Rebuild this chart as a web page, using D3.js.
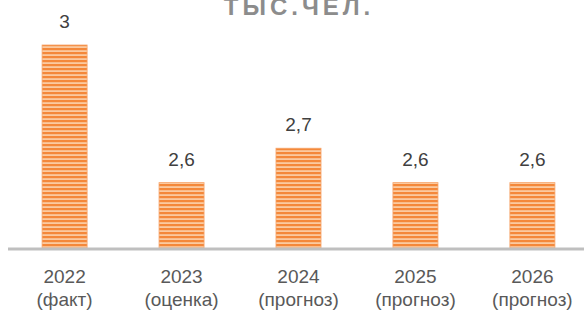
<!DOCTYPE html>
<html>
<head>
<meta charset="utf-8">
<script src="https://cdn.jsdelivr.net/npm/d3@7"></script>
<style>
  body { margin: 0; background: #fff; }
  svg { display: block; font-family: "Liberation Sans", Arial, sans-serif; }
</style>
</head>
<body>
<div id="chart"></div>
<script>
var years = ['2022', '2023', '2024', '2025', '2026'];
var notes = ['(факт)', '(оценка)', '(прогноз)', '(прогноз)', '(прогноз)'];
var values = [3, 2.6, 2.7, 2.6, 2.6];
var valueLabels = ['3', '2,6', '2,7', '2,6', '2,6'];

var width = 584, height = 310;
var baseY = 248;

var svg = d3.select('#chart').append('svg')
  .attr('width', width)
  .attr('height', height);

// stripes on the bars
var defs = svg.append('defs');
var pat = defs.append('pattern')
  .attr('id', 'stripes')
  .attr('patternUnits', 'userSpaceOnUse')
  .attr('width', 8).attr('height', 4);
pat.append('rect').attr('width', 8).attr('height', 4).attr('fill', '#fbcaa0');
pat.append('rect').attr('width', 8).attr('height', 2.2).attr('fill', '#f4883a');

var x = d3.scaleBand()
  .domain(years)
  .range([7, 590])
  .paddingInner(0.615)
  .paddingOuter(0.3);

var y = d3.scaleLinear()
  .domain([2.41, 3])
  .range([baseY, 45]);

// title, cut off at the top as in the original
svg.append('text')
  .attr('x', 299).attr('y', 15)
  .attr('text-anchor', 'middle')
  .style('font-size', '24px')
  .style('font-weight', 'bold')
  .style('letter-spacing', '4px')
  .style('fill', '#8c8c8c')
  .text('ТЫС.ЧЕЛ.');

var bars = svg.append('g');
bars.selectAll('rect')
  .data(values)
  .enter().append('rect')
  .attr('x', function(d, i) { return x(years[i]); })
  .attr('y', function(d) { return y(d); })
  .attr('width', x.bandwidth())
  .attr('height', function(d) { return baseY - y(d); })
  .attr('fill', 'url(#stripes)')
  .style('stroke', '#f6a46a')
  .style('stroke-width', 0.8);

bars.selectAll('text')
  .data(values)
  .enter().append('text')
  .attr('x', function(d, i) { return x(years[i]) + x.bandwidth() / 2; })
  .attr('y', function(d) { return y(d) - 17; })
  .attr('text-anchor', 'middle')
  .style('font-size', '19px')
  .style('fill', '#404040')
  .text(function(d, i) { return valueLabels[i]; });

// axis line
svg.append('line')
  .attr('x1', 8).attr('x2', width)
  .attr('y1', baseY + 1).attr('y2', baseY + 1)
  .style('stroke', '#bfbfbf')
  .style('stroke-width', 3);

var cats = svg.append('g');
cats.selectAll('text.year')
  .data(years)
  .enter().append('text')
  .attr('class', 'year')
  .attr('x', function(d) { return x(d) + x.bandwidth() / 2; })
  .attr('y', 283)
  .attr('text-anchor', 'middle')
  .style('font-size', '19px')
  .style('fill', '#595959')
  .text(function(d) { return d; });

cats.selectAll('text.note')
  .data(notes)
  .enter().append('text')
  .attr('class', 'note')
  .attr('x', function(d, i) { return x(years[i]) + x.bandwidth() / 2; })
  .attr('y', 306)
  .attr('text-anchor', 'middle')
  .style('font-size', '19px')
  .style('fill', '#595959')
  .text(function(d) { return d; });
</script>
</body>
</html>
